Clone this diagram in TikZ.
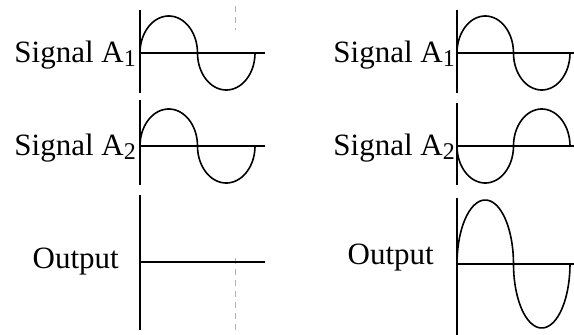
\documentclass[tikz,border=0pt]{standalone}
\usepackage{fontspec}
\setmainfont{Liberation Serif}
\newcommand{\subdig}[1]{\raisebox{-0.12em}{\fontsize{24}{26}\selectfont #1}}
% wave made of two half-ellipses: start x, baseline y, period, amplitude (sign = first lobe up)
\newcommand{\wavepath}[4]{%
  \draw[wave] plot[domain=0:180,samples=40] ({#1+#3/4*(1-cos(\x))},{#2-(#4)*sin(\x)})
    -- plot[domain=0:180,samples=40] ({#1+#3/2+#3/4*(1-cos(\x))},{#2+(#4)*sin(\x)});}
\begin{document}
\begin{tikzpicture}[x=1pt,y=-1pt,
  lbl/.style={inner sep=0pt,font=\fontsize{31}{36}\selectfont},
  axis/.style={line width=1.8pt},
  base/.style={line width=1.6pt},
  wave/.style={line width=1.6pt,line join=round},
  faint/.style={gray!60,line width=0.6pt,dash pattern=on 6pt off 5pt}]
\useasboundingbox (0,0) rectangle (574,335);
% faint dashed line
\draw[faint] (235,6) -- (235,30);
\draw[faint] (235,258) -- (235,335);
% ---------- left column ----------
\node[lbl,anchor=east] (la1) at (136,55) {Signal A\subdig{1}};
\draw[axis] (140,10) -- (140,93);
\draw[base] (140,53) -- (265,53);
\wavepath{140}{53}{115}{37}
\node[lbl,anchor=east] (la2) at (136,148) {Signal A\subdig{2}};
\draw[axis] (140,100) -- (140,185);
\draw[base] (140,146) -- (265,146);
\wavepath{140}{146}{115}{37}
\node[lbl,anchor=east] (lo) at (119,262) {Output};
\draw[axis] (140,195) -- (140,330);
\draw[line width=2.4pt] (140,262) -- (265,262);
% ---------- right column ----------
\node[lbl,anchor=east] (ra1) at (455,55) {Signal A\subdig{1}};
\draw[axis] (457,10) -- (457,93);
\draw[base] (457,53) -- (574,53);
\wavepath{457}{53}{113}{37}
\node[lbl,anchor=east] (ra2) at (455,148) {Signal A\subdig{2}};
\draw[axis] (457,103) -- (457,185);
\draw[base] (457,146) -- (574,146);
\wavepath{457}{146}{113}{-37}
\node[lbl,anchor=east] (ro) at (434,258) {Output};
\draw[axis] (457,198) -- (457,335);
\draw[base] (457,264) -- (574,264);
\wavepath{457}{264}{113}{64}
\end{tikzpicture}
\end{document}
